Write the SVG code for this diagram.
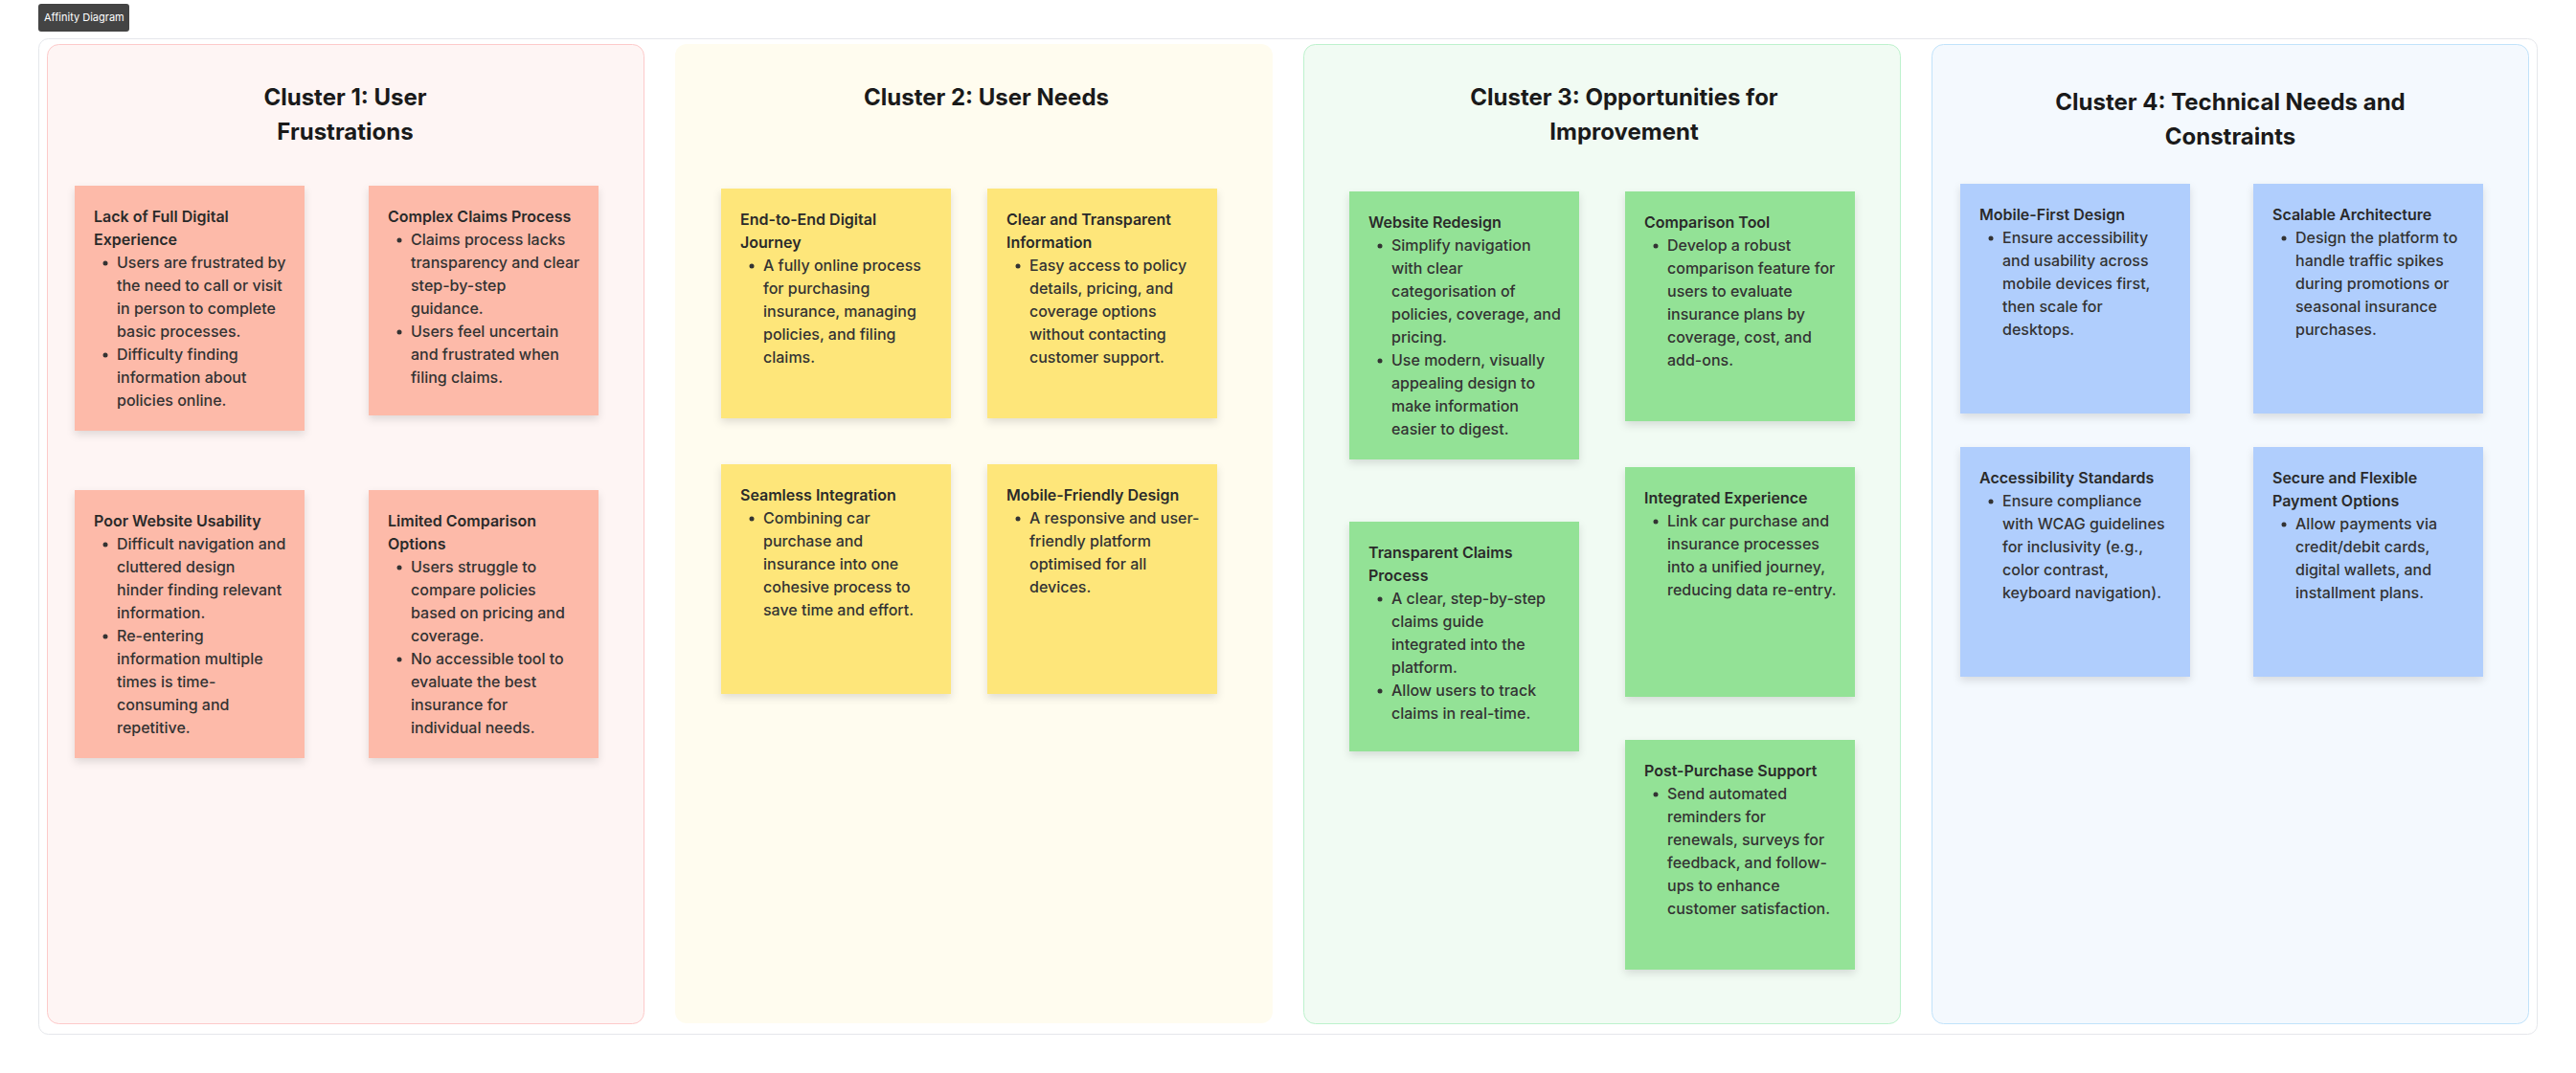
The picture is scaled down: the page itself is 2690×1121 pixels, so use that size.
<svg xmlns="http://www.w3.org/2000/svg" width="2690" height="1121" viewBox="0 0 2690 1121">
<style>
.ct{font-family:Inter,"Liberation Sans",sans-serif;font-size:24px;font-weight:700;fill:#1a1a1a;text-anchor:middle}
.nt{font-family:Inter,"Liberation Sans",sans-serif;font-size:16px;font-weight:600;fill:#2a2a2a}
.nb{font-family:Inter,"Liberation Sans",sans-serif;font-size:16px;font-weight:500;fill:#333}
.dot{fill:#333}
.red{fill:#fdbaa9}
.yel{fill:#fee67a}
.grn{fill:#93e296}
.blu{fill:#b0cefd}
</style>
<defs>
<filter id="sh" x="-10%" y="-10%" width="120%" height="125%">
<feDropShadow dx="0" dy="4" stdDeviation="4" flood-color="#000" flood-opacity="0.12"/>
</filter>
</defs>
<rect width="2690" height="1121" fill="#ffffff"/>
<g id="badge">
<rect x="40" y="4" width="95" height="29" rx="3" fill="#444444"/>
<text x="46" y="22" font-family="Inter,'Liberation Sans',sans-serif" font-size="11" fill="#ffffff">Affinity Diagram</text>
</g>
<rect id="board" x="40.5" y="40.5" width="2609" height="1040" rx="10" fill="#ffffff" stroke="#e5e7eb"/>

<g id="cluster1">
<rect x="49.5" y="46.5" width="623" height="1023" rx="12" fill="#fef5f4" stroke="#fdcaca"/>
<text class="ct" x="360.5" y="110">Cluster 1: User</text>
<text class="ct" x="360.5" y="146">Frustrations</text>
</g>
<g id="cluster2">
<rect x="705" y="46" width="624" height="1023" rx="12" fill="#fffcef"/>
<text class="ct" x="1030" y="110">Cluster 2: User Needs</text>
</g>
<g id="cluster3">
<rect x="1361.5" y="46.5" width="623" height="1023" rx="12" fill="#f1fbf3" stroke="#bdf2cd"/>
<text class="ct" x="1696" y="110">Cluster 3: Opportunities for</text>
<text class="ct" x="1696" y="146">Improvement</text>
</g>
<g id="cluster4">
<rect x="2017.5" y="46.5" width="623" height="1023" rx="12" fill="#f4f9fe" stroke="#c1e3fb"/>
<text class="ct" x="2329" y="115">Cluster 4: Technical Needs and</text>
<text class="ct" x="2329" y="151">Constraints</text>
</g>

<g id="connectors"></g>

<g id="card-lack-digital">
<rect class="red" x="78" y="194" width="240" height="256" filter="url(#sh)"/>
<text class="nt" x="98" y="232">Lack of Full Digital<tspan x="98" dy="24">Experience</tspan></text>
<circle class="dot" cx="110" cy="275" r="2.5"/><circle class="dot" cx="110" cy="371" r="2.5"/>
<text class="nb" x="122" y="280">Users are frustrated by<tspan x="122" dy="24">the need to call or visit</tspan><tspan x="122" dy="24">in person to complete</tspan><tspan x="122" dy="24">basic processes.</tspan><tspan x="122" dy="24">Difficulty finding</tspan><tspan x="122" dy="24">information about</tspan><tspan x="122" dy="24">policies online.</tspan></text>
</g>
<g id="card-complex-claims">
<rect class="red" x="385" y="194" width="240" height="240" filter="url(#sh)"/>
<text class="nt" x="405" y="232">Complex Claims Process</text>
<circle class="dot" cx="417" cy="251" r="2.5"/><circle class="dot" cx="417" cy="347" r="2.5"/>
<text class="nb" x="429" y="256">Claims process lacks<tspan x="429" dy="24">transparency and clear</tspan><tspan x="429" dy="24">step-by-step</tspan><tspan x="429" dy="24">guidance.</tspan><tspan x="429" dy="24">Users feel uncertain</tspan><tspan x="429" dy="24">and frustrated when</tspan><tspan x="429" dy="24">filing claims.</tspan></text>
</g>
<g id="card-poor-usability">
<rect class="red" x="78" y="512" width="240" height="280" filter="url(#sh)"/>
<text class="nt" x="98" y="550">Poor Website Usability</text>
<circle class="dot" cx="110" cy="569" r="2.5"/><circle class="dot" cx="110" cy="665" r="2.5"/>
<text class="nb" x="122" y="574">Difficult navigation and<tspan x="122" dy="24">cluttered design</tspan><tspan x="122" dy="24">hinder finding relevant</tspan><tspan x="122" dy="24">information.</tspan><tspan x="122" dy="24">Re-entering</tspan><tspan x="122" dy="24">information multiple</tspan><tspan x="122" dy="24">times is time-</tspan><tspan x="122" dy="24">consuming and</tspan><tspan x="122" dy="24">repetitive.</tspan></text>
</g>
<g id="card-limited-comparison">
<rect class="red" x="385" y="512" width="240" height="280" filter="url(#sh)"/>
<text class="nt" x="405" y="550">Limited Comparison<tspan x="405" dy="24">Options</tspan></text>
<circle class="dot" cx="417" cy="593" r="2.5"/><circle class="dot" cx="417" cy="689" r="2.5"/>
<text class="nb" x="429" y="598">Users struggle to<tspan x="429" dy="24">compare policies</tspan><tspan x="429" dy="24">based on pricing and</tspan><tspan x="429" dy="24">coverage.</tspan><tspan x="429" dy="24">No accessible tool to</tspan><tspan x="429" dy="24">evaluate the best</tspan><tspan x="429" dy="24">insurance for</tspan><tspan x="429" dy="24">individual needs.</tspan></text>
</g>

<g id="card-end-to-end">
<rect class="yel" x="753" y="197" width="240" height="240" filter="url(#sh)"/>
<text class="nt" x="773" y="235">End-to-End Digital<tspan x="773" dy="24">Journey</tspan></text>
<circle class="dot" cx="785" cy="278" r="2.5"/>
<text class="nb" x="797" y="283">A fully online process<tspan x="797" dy="24">for purchasing</tspan><tspan x="797" dy="24">insurance, managing</tspan><tspan x="797" dy="24">policies, and filing</tspan><tspan x="797" dy="24">claims.</tspan></text>
</g>
<g id="card-clear-info">
<rect class="yel" x="1031" y="197" width="240" height="240" filter="url(#sh)"/>
<text class="nt" x="1051" y="235">Clear and Transparent<tspan x="1051" dy="24">Information</tspan></text>
<circle class="dot" cx="1063" cy="278" r="2.5"/>
<text class="nb" x="1075" y="283">Easy access to policy<tspan x="1075" dy="24">details, pricing, and</tspan><tspan x="1075" dy="24">coverage options</tspan><tspan x="1075" dy="24">without contacting</tspan><tspan x="1075" dy="24">customer support.</tspan></text>
</g>
<g id="card-seamless">
<rect class="yel" x="753" y="485" width="240" height="240" filter="url(#sh)"/>
<text class="nt" x="773" y="523">Seamless Integration</text>
<circle class="dot" cx="785" cy="542" r="2.5"/>
<text class="nb" x="797" y="547">Combining car<tspan x="797" dy="24">purchase and</tspan><tspan x="797" dy="24">insurance into one</tspan><tspan x="797" dy="24">cohesive process to</tspan><tspan x="797" dy="24">save time and effort.</tspan></text>
</g>
<g id="card-mobile-friendly">
<rect class="yel" x="1031" y="485" width="240" height="240" filter="url(#sh)"/>
<text class="nt" x="1051" y="523">Mobile-Friendly Design</text>
<circle class="dot" cx="1063" cy="542" r="2.5"/>
<text class="nb" x="1075" y="547">A responsive and user-<tspan x="1075" dy="24">friendly platform</tspan><tspan x="1075" dy="24">optimised for all</tspan><tspan x="1075" dy="24">devices.</tspan></text>
</g>

<g id="card-website-redesign">
<rect class="grn" x="1409" y="200" width="240" height="280" filter="url(#sh)"/>
<text class="nt" x="1429" y="238">Website Redesign</text>
<circle class="dot" cx="1441" cy="257" r="2.5"/><circle class="dot" cx="1441" cy="377" r="2.5"/>
<text class="nb" x="1453" y="262">Simplify navigation<tspan x="1453" dy="24">with clear</tspan><tspan x="1453" dy="24">categorisation of</tspan><tspan x="1453" dy="24">policies, coverage, and</tspan><tspan x="1453" dy="24">pricing.</tspan><tspan x="1453" dy="24">Use modern, visually</tspan><tspan x="1453" dy="24">appealing design to</tspan><tspan x="1453" dy="24">make information</tspan><tspan x="1453" dy="24">easier to digest.</tspan></text>
</g>
<g id="card-comparison-tool">
<rect class="grn" x="1697" y="200" width="240" height="240" filter="url(#sh)"/>
<text class="nt" x="1717" y="238">Comparison Tool</text>
<circle class="dot" cx="1729" cy="257" r="2.5"/>
<text class="nb" x="1741" y="262">Develop a robust<tspan x="1741" dy="24">comparison feature for</tspan><tspan x="1741" dy="24">users to evaluate</tspan><tspan x="1741" dy="24">insurance plans by</tspan><tspan x="1741" dy="24">coverage, cost, and</tspan><tspan x="1741" dy="24">add-ons.</tspan></text>
</g>
<g id="card-integrated">
<rect class="grn" x="1697" y="488" width="240" height="240" filter="url(#sh)"/>
<text class="nt" x="1717" y="526">Integrated Experience</text>
<circle class="dot" cx="1729" cy="545" r="2.5"/>
<text class="nb" x="1741" y="550">Link car purchase and<tspan x="1741" dy="24">insurance processes</tspan><tspan x="1741" dy="24">into a unified journey,</tspan><tspan x="1741" dy="24">reducing data re-entry.</tspan></text>
</g>
<g id="card-transparent-claims">
<rect class="grn" x="1409" y="545" width="240" height="240" filter="url(#sh)"/>
<text class="nt" x="1429" y="583">Transparent Claims<tspan x="1429" dy="24">Process</tspan></text>
<circle class="dot" cx="1441" cy="626" r="2.5"/><circle class="dot" cx="1441" cy="722" r="2.5"/>
<text class="nb" x="1453" y="631">A clear, step-by-step<tspan x="1453" dy="24">claims guide</tspan><tspan x="1453" dy="24">integrated into the</tspan><tspan x="1453" dy="24">platform.</tspan><tspan x="1453" dy="24">Allow users to track</tspan><tspan x="1453" dy="24">claims in real-time.</tspan></text>
</g>
<g id="card-post-purchase">
<rect class="grn" x="1697" y="773" width="240" height="240" filter="url(#sh)"/>
<text class="nt" x="1717" y="811">Post-Purchase Support</text>
<circle class="dot" cx="1729" cy="830" r="2.5"/>
<text class="nb" x="1741" y="835">Send automated<tspan x="1741" dy="24">reminders for</tspan><tspan x="1741" dy="24">renewals, surveys for</tspan><tspan x="1741" dy="24">feedback, and follow-</tspan><tspan x="1741" dy="24">ups to enhance</tspan><tspan x="1741" dy="24">customer satisfaction.</tspan></text>
</g>

<g id="card-mobile-first">
<rect class="blu" x="2047" y="192" width="240" height="240" filter="url(#sh)"/>
<text class="nt" x="2067" y="230">Mobile-First Design</text>
<circle class="dot" cx="2079" cy="249" r="2.5"/>
<text class="nb" x="2091" y="254">Ensure accessibility<tspan x="2091" dy="24">and usability across</tspan><tspan x="2091" dy="24">mobile devices first,</tspan><tspan x="2091" dy="24">then scale for</tspan><tspan x="2091" dy="24">desktops.</tspan></text>
</g>
<g id="card-scalable">
<rect class="blu" x="2353" y="192" width="240" height="240" filter="url(#sh)"/>
<text class="nt" x="2373" y="230">Scalable Architecture</text>
<circle class="dot" cx="2385" cy="249" r="2.5"/>
<text class="nb" x="2397" y="254">Design the platform to<tspan x="2397" dy="24">handle traffic spikes</tspan><tspan x="2397" dy="24">during promotions or</tspan><tspan x="2397" dy="24">seasonal insurance</tspan><tspan x="2397" dy="24">purchases.</tspan></text>
</g>
<g id="card-accessibility">
<rect class="blu" x="2047" y="467" width="240" height="240" filter="url(#sh)"/>
<text class="nt" x="2067" y="505">Accessibility Standards</text>
<circle class="dot" cx="2079" cy="524" r="2.5"/>
<text class="nb" x="2091" y="529">Ensure compliance<tspan x="2091" dy="24">with WCAG guidelines</tspan><tspan x="2091" dy="24">for inclusivity (e.g.,</tspan><tspan x="2091" dy="24">color contrast,</tspan><tspan x="2091" dy="24">keyboard navigation).</tspan></text>
</g>
<g id="card-payments">
<rect class="blu" x="2353" y="467" width="240" height="240" filter="url(#sh)"/>
<text class="nt" x="2373" y="505">Secure and Flexible<tspan x="2373" dy="24">Payment Options</tspan></text>
<circle class="dot" cx="2385" cy="548" r="2.5"/>
<text class="nb" x="2397" y="553">Allow payments via<tspan x="2397" dy="24">credit/debit cards,</tspan><tspan x="2397" dy="24">digital wallets, and</tspan><tspan x="2397" dy="24">installment plans.</tspan></text>
</g>
</svg>
